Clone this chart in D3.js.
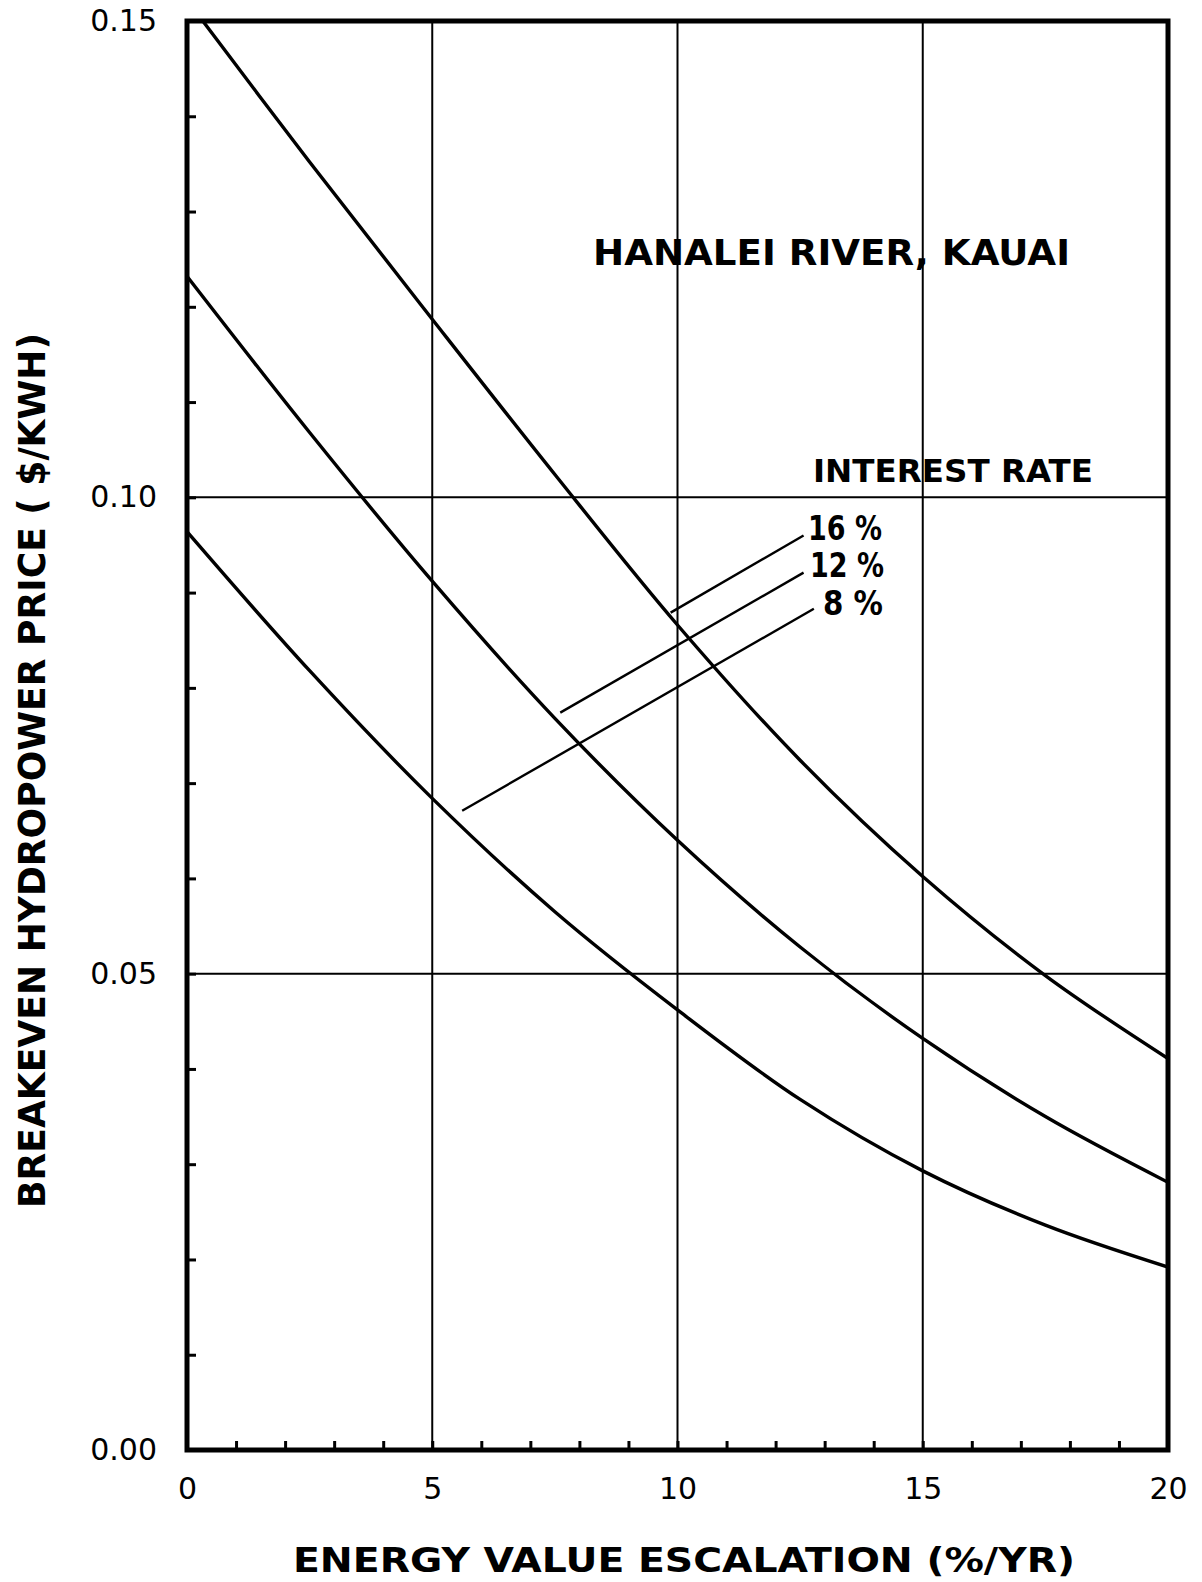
<!DOCTYPE html>
<html>
<head>
<meta charset="utf-8">
<script src="https://cdn.jsdelivr.net/npm/d3@7"></script>
<style>
  html, body { margin: 0; padding: 0; background: #fff; }
  svg { display: block; }
  text { font-family: "DejaVu Sans", "Liberation Sans", sans-serif; fill: #000; }
</style>
</head>
<body>
<svg id="chart" width="1202" height="1582"></svg>
<script>
// ---- data ----
const escalation = [0, 2.5, 5, 7.5, 10, 12.5, 15, 17.5, 20];
const price16 = [0.1522, 0.1352, 0.1187, 0.1024, 0.0866, 0.0724, 0.0602, 0.0498, 0.0411];
const price12 = [0.1232, 0.1068, 0.0912, 0.0768, 0.0640, 0.0528, 0.0432, 0.0350, 0.0281];
const price8  = [0.0964, 0.0818, 0.0684, 0.0565, 0.0462, 0.0368, 0.0293, 0.0236, 0.0192];
const seriesNames = ["16 %", "12 %", "8 %"];
// leader lines (label end, curve end) in data units
const leaderStart = [[12.57, 0.0960], [12.57, 0.0921], [12.78, 0.0883]];
const leaderEnd   = [[9.86, 0.0879], [7.61, 0.0774], [5.61, 0.0671]];
const xTickLabels = ["0", "5", "10", "15", "20"];
const xTickValues = [0, 5, 10, 15, 20];
const yTickLabels = ["0.00", "0.05", "0.10", "0.15"];
const yTickValues = [0, 0.05, 0.10, 0.15];
const xMinor = d3.range(0, 21, 1);
const yMinor = d3.range(0, 0.1501, 0.01);

// ---- layout ----
const L = 187, T = 21, R = 1168, B = 1450;
const svg = d3.select("#chart");
const x = d3.scaleLinear().domain([0, 20]).range([L, R]);
const y = d3.scaleLinear().domain([0, 0.15]).range([B, T]);

// clip
svg.append("clipPath").attr("id", "clip")
  .append("rect").attr("x", L).attr("y", T).attr("width", R - L).attr("height", B - T);

// grid lines
const grid = svg.append("g").attr("stroke", "#000").attr("stroke-width", 2);
grid.selectAll("line.v").data([5, 10, 15]).join("line")
  .attr("x1", d => x(d)).attr("x2", d => x(d)).attr("y1", T).attr("y2", B);
grid.selectAll("line.h").data([0.05, 0.10]).join("line")
  .attr("x1", L).attr("x2", R).attr("y1", d => y(d)).attr("y2", d => y(d));

// minor ticks (inside)
const axB = d3.axisTop(x).tickValues(xMinor).tickSize(9).tickFormat("");
svg.append("g").attr("transform", `translate(0,${B})`).call(axB)
  .call(g => g.select(".domain").remove())
  .call(g => g.selectAll(".tick line").attr("stroke-width", 3));
const axL = d3.axisRight(y).tickValues(yMinor).tickSize(9).tickFormat("");
svg.append("g").attr("transform", `translate(${L},0)`).call(axL)
  .call(g => g.select(".domain").remove())
  .call(g => g.selectAll(".tick line").attr("stroke-width", 3));

// frame
svg.append("rect").attr("x", L).attr("y", T).attr("width", R - L).attr("height", B - T)
  .attr("fill", "none").attr("stroke", "#000").attr("stroke-width", 5);

// tick labels
const axXLab = d3.axisBottom(x).tickValues(xTickValues).tickSize(0)
  .tickFormat((d, i) => xTickLabels[i]).tickPadding(34);
svg.append("g").attr("transform", `translate(0,${B})`).call(axXLab)
  .call(g => g.select(".domain").remove())
  .call(g => g.selectAll("text").attr("font-size", 30).attr("font-family", "DejaVu Sans").attr("dy", "0.5em"));
const axYLab = d3.axisLeft(y).tickValues(yTickValues).tickSize(0)
  .tickFormat((d, i) => yTickLabels[i]).tickPadding(30);
svg.append("g").attr("transform", `translate(${L},0)`).call(axYLab)
  .call(g => g.select(".domain").remove())
  .call(g => g.selectAll("text").attr("font-size", 30).attr("font-family", "DejaVu Sans"));

// curves
const series = [price16, price12, price8];
const line = d3.line().x(d => x(d[0])).y(d => y(d[1])).curve(d3.curveCatmullRom.alpha(0.5));
svg.append("g").attr("clip-path", "url(#clip)")
  .selectAll("path").data(series).join("path")
  .attr("d", s => line(escalation.map((e, i) => [e, s[i]])))
  .attr("fill", "none").attr("stroke", "#000").attr("stroke-width", 3.4);

// leader lines
svg.append("g").selectAll("line").data(leaderStart).join("line")
  .attr("x1", d => x(d[0])).attr("y1", d => y(d[1]))
  .attr("x2", (d, i) => x(leaderEnd[i][0])).attr("y2", (d, i) => y(leaderEnd[i][1]))
  .attr("stroke", "#000").attr("stroke-width", 2.4);

// series labels
const labPos = [[808, 540], [810, 577], [823, 615]];
svg.append("g").selectAll("text").data(seriesNames).join("text")
  .attr("x", (d, i) => labPos[i][0]).attr("y", (d, i) => labPos[i][1])
  .attr("font-size", 33).attr("font-weight", "bold")
  .attr("textLength", (d, i) => i === 2 ? 60 : 74).attr("lengthAdjust", "spacingAndGlyphs")
  .text(d => d);

// annotations
svg.append("text").attr("x", 593).attr("y", 265).attr("font-size", 36)
  .attr("textLength", 477).attr("lengthAdjust", "spacingAndGlyphs").attr("font-weight", "bold")
  .text("HANALEI RIVER, KAUAI");
svg.append("text").attr("x", 813).attr("y", 482).attr("font-size", 32)
  .attr("textLength", 280).attr("lengthAdjust", "spacingAndGlyphs").attr("font-weight", "bold")
  .text("INTEREST RATE");

// axis titles
svg.append("text").attr("x", 293).attr("y", 1572).attr("font-size", 33)
  .attr("textLength", 782).attr("lengthAdjust", "spacingAndGlyphs").attr("font-weight", "bold")
  .text("ENERGY  VALUE  ESCALATION (%/YR)");
svg.append("text").attr("transform", "translate(45,1208) rotate(-90)")
  .attr("font-size", 37).attr("textLength", 875).attr("lengthAdjust", "spacingAndGlyphs").attr("font-weight", "bold")
  .text("BREAKEVEN  HYDROPOWER  PRICE  ( $/KWH)");
</script>
</body>
</html>
